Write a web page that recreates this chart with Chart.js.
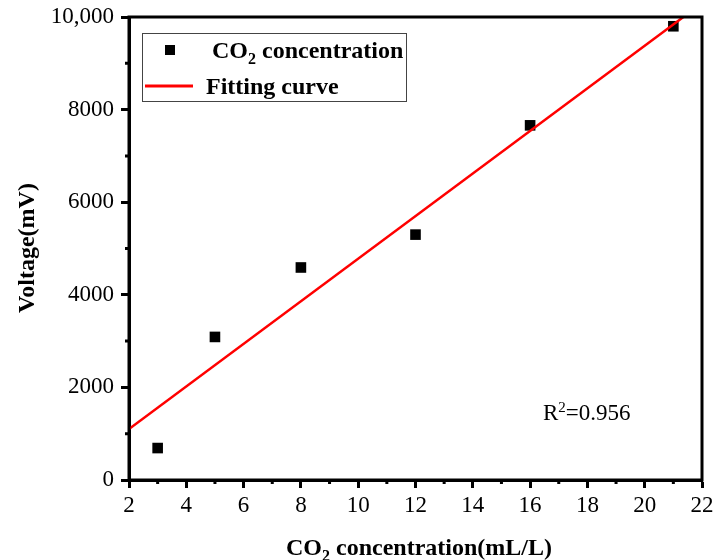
<!DOCTYPE html>
<html>
<head>
<meta charset="utf-8">
<script src="https://cdn.jsdelivr.net/npm/chart.js@4.4.0/dist/chart.umd.min.js"></script>
<style>
  html, body { margin: 0; padding: 0; background: #fff; }
  #wrap { width: 714px; height: 560px; }
</style>
</head>
<body>
<div id="wrap"><canvas id="chart" width="714" height="560"></canvas></div>
<script>
// measured points
const concentration = [3, 5, 8, 12, 16, 21];
const voltage = [690, 3090, 4590, 5300, 7660, 9800];

// fitted line end points
const fitX = [2, 21.35];
const fitY = [1100, 10000];

const xMin = 2, xMax = 22, xStep = 2;
const yMin = 0, yMax = 10000, yStep = 2000;
const xMinor = [3, 5, 7, 9, 11, 13, 15, 17, 19, 21];
const yMinor = [1000, 3000, 5000, 7000, 9000];

const rSquared = '0.956';
const serif = '"Liberation Serif", "Times New Roman", serif';

// text with a sub/superscript part: parts = [[text, shift], ...]
function drawRich(ctx, parts, x, y, size, bold, align) {
  const w = parts.reduce((s, p) => {
    ctx.font = (bold ? 'bold ' : '') + (p[1] ? Math.round(size * 0.65) : size) + 'px ' + serif;
    return s + ctx.measureText(p[0]).width;
  }, 0);
  let cx = align === 'center' ? x - w / 2 : x;
  parts.forEach((p) => {
    ctx.font = (bold ? 'bold ' : '') + (p[1] ? Math.round(size * 0.65) : size) + 'px ' + serif;
    ctx.fillText(p[0], cx, y + p[1] * size);
    cx += ctx.measureText(p[0]).width;
  });
}

const framePlugin = {
  id: 'frame',
  afterDraw(chart) {
    const { ctx, chartArea: a, scales } = chart;
    ctx.save();
    ctx.strokeStyle = '#000';
    ctx.lineWidth = 3;
    ctx.strokeRect(a.left, a.top, a.right - a.left, a.bottom - a.top);

    // minor ticks
    ctx.beginPath();
    xMinor.forEach((v) => {
      const px = scales.x.getPixelForValue(v);
      ctx.moveTo(px, a.bottom);
      ctx.lineTo(px, a.bottom + 4);
    });
    yMinor.forEach((v) => {
      const py = scales.y.getPixelForValue(v);
      ctx.moveTo(a.left, py);
      ctx.lineTo(a.left - 4, py);
    });
    ctx.stroke();

    ctx.fillStyle = '#000';
    ctx.textBaseline = 'alphabetic';

    // axis titles
    drawRich(ctx, [['CO', 0], ['2', 0.25], [' concentration(mL/L)', 0]], 419, 555, 24, true, 'center');
    ctx.save();
    ctx.translate(34, 248);
    ctx.rotate(-Math.PI / 2);
    drawRich(ctx, [['Voltage(mV)', 0]], 0, 0, 24, true, 'center');
    ctx.restore();

    // R^2 note
    drawRich(ctx, [['R', 0], ['2', -0.35], ['=' + rSquared, 0]],
      scales.x.getPixelForValue(16.45), scales.y.getPixelForValue(1290), 23, false, 'left');

    // legend
    ctx.strokeStyle = '#444';
    ctx.lineWidth = 1;
    ctx.strokeRect(142.5, 33.5, 264, 68);
    ctx.fillStyle = '#000';
    ctx.fillRect(165, 45, 10, 10);
    ctx.strokeStyle = '#ff0000';
    ctx.lineWidth = 3;
    ctx.beginPath();
    ctx.moveTo(145, 86);
    ctx.lineTo(193, 86);
    ctx.stroke();
    ctx.fillStyle = '#000';
    drawRich(ctx, [['CO', 0], ['2', 0.25], [' concentration', 0]], 212, 58, 24, true, 'left');
    drawRich(ctx, [['Fitting curve', 0]], 206, 94, 24, true, 'left');
    ctx.restore();
  },
};

const tickFont = { family: serif, size: 23 };

new Chart(document.getElementById('chart'), {
  type: 'scatter',
  data: {
    datasets: [
      {
        label: 'Fitting curve',
        type: 'line',
        data: fitX.map((x, i) => ({ x, y: fitY[i] })),
        borderColor: '#ff0000',
        borderWidth: 2.5,
        pointRadius: 0,
        fill: false,
      },
      {
        label: 'CO2 concentration',
        data: concentration.map((x, i) => ({ x, y: voltage[i] })),
        pointStyle: 'rect',
        pointRadius: 7.5,
        pointHoverRadius: 7.5,
        backgroundColor: '#000',
        borderColor: '#000',
        borderWidth: 0,
      },
    ],
  },
  options: {
    responsive: false,
    animation: false,
    layout: { padding: { top: 17, right: 12, left: 0, bottom: 0 } },
    plugins: { legend: { display: false }, tooltip: { enabled: false } },
    scales: {
      x: {
        type: 'linear',
        min: xMin,
        max: xMax,
        ticks: { stepSize: xStep, color: '#000', font: tickFont, padding: 4, maxRotation: 0 },
        grid: { drawOnChartArea: false, tickLength: 8, tickWidth: 3, tickColor: '#000' },
        border: { color: '#000', width: 3 },
        afterFit(scale) {
          scale.height = 80;
          scale.paddingLeft = 0;
          scale.paddingRight = 0;
        },
      },
      y: {
        min: yMin,
        max: yMax,
        ticks: {
          stepSize: yStep,
          color: '#000',
          font: tickFont,
          padding: 7,
          callback: (v) => (v >= 10000 ? v.toLocaleString('en-US') : String(v)),
        },
        grid: { drawOnChartArea: false, tickLength: 8, tickWidth: 3, tickColor: '#000' },
        border: { color: '#000', width: 3 },
        afterFit(scale) {
          scale.width = 129;
          scale.paddingTop = 0;
          scale.paddingBottom = 0;
        },
      },
    },
  },
  plugins: [framePlugin],
});
</script>
</body>
</html>
